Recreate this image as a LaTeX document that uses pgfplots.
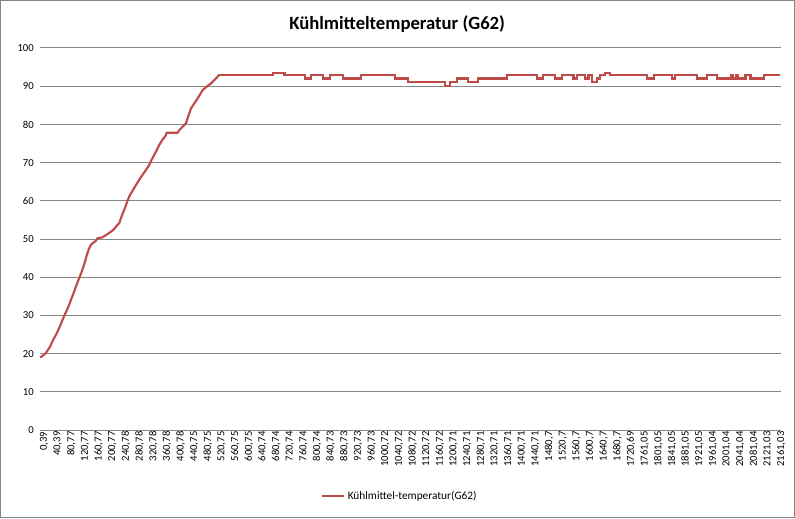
\documentclass[border=0pt]{standalone}
\usepackage{fontspec}
\setmainfont{Carlito}
\usepackage{pgfplots}
\usepackage{pgfplotstable}
\pgfplotsset{compat=1.18}

\definecolor{seriesred}{RGB}{190,75,72}
\definecolor{gridgray}{RGB}{134,134,134}

% warm-up phase: time [s], coolant temperature [deg C]
\pgfplotstableread{
t T
0.39 19.0
9.2 19.5
17.1 20.1
23.9 21.0
29.8 21.8
35.6 23.0
41.5 24.0
48.9 25.2
56.2 26.6
63.5 28.2
70.9 29.8
78.2 31.2
85.6 32.7
92.9 34.5
100.3 36.2
107.6 38.0
114.9 39.7
120.8 41.0
127.6 42.7
132.6 44.2
137.6 45.8
142.8 47.2
149.3 48.4
156.1 49.0
164.0 49.5
168.7 50.2
182.5 50.4
193.4 51.0
208.0 51.9
217.7 52.6
227.4 53.7
232.4 54.1
239.8 56.0
247.1 57.6
254.5 59.4
261.8 61.1
270.6 62.5
281.5 64.1
291.2 65.5
300.9 66.8
310.3 68.0
320.5 69.4
327.9 70.8
335.2 72.0
342.6 73.3
349.9 74.6
358.7 75.9
369.6 77.2
371.0 77.8
403.7 77.8
408.6 78.5
418.3 79.4
428.3 80.3
435.1 82.2
443.0 84.2
452.7 85.5
462.4 86.8
470.3 88.0
477.1 89.0
491.8 90.1
502.6 90.8
511.4 91.6
526.1 93.0
}\warmup

% operating phase (stepwise): time [s], coolant temperature [deg C]
\pgfplotstableread{
t T
526.1 93.0
682.7 93.5
717.0 93.0
775.8 92.0
795.4 93.0
829.5 92.0
849.2 93.0
888.3 92.0
942.3 93.0
1040.1 92.0
1079.2 91.0
1186.9 90.0
1201.6 91.0
1221.3 92.0
1255.4 91.0
1284.7 92.0
1368.2 93.0
1456.3 92.0
1475.7 93.0
1510.0 92.0
1529.7 93.0
1563.8 92.0
1573.8 93.0
1598.1 92.0
1607.8 93.0
1617.8 91.0
1632.5 92.0
1642.2 93.0
1656.9 93.5
1671.6 93.0
1779.3 92.0
1798.7 93.0
1852.8 92.0
1862.5 93.0
1926.2 92.0
1955.6 93.0
1984.9 92.0
2026.9 93.0
2031.3 92.0
2041.6 93.0
2046.0 92.0
2068.0 93.0
2082.7 92.0
2121.8 93.0
2167.9 93.0
}\running

\begin{document}
\begin{tikzpicture}
\useasboundingbox (-30pt,-66pt) rectangle (566.25pt,322.5pt);
\begin{axis}[
  scale only axis,
  width=555.75pt, height=286.5pt,
  xmin=0.39, xmax=2172,
  ymin=0, ymax=100,
  axis line style={draw=none},
  major tick length=0pt,
  ytick={0,10,...,100},
  ymajorgrids,
  grid style={gridgray, line width=0.75pt},
  xtick={0.39,40.39,80.77,120.77,160.77,200.77,240.78,280.78,320.78,360.78,400.78,440.75,480.75,520.75,560.75,600.75,640.74,680.74,720.74,760.74,800.74,840.73,880.73,920.73,960.73,1000.72,1040.72,1080.72,1120.72,1160.72,1200.71,1240.71,1280.71,1320.71,1360.71,1400.71,1440.71,1480.7,1520.7,1560.7,1600.7,1640.7,1680.7,1720.69,1761.05,1801.05,1841.05,1881.05,1921.05,1961.04,2001.04,2041.04,2081.04,2121.03,2161.03},
  xticklabels={{0,39},{40,39},{80,77},{120,77},{160,77},{200,77},{240,78},{280,78},{320,78},{360,78},{400,78},{440,75},{480,75},{520,75},{560,75},{600,75},{640,74},{680,74},{720,74},{760,74},{800,74},{840,73},{880,73},{920,73},{960,73},{1000,72},{1040,72},{1080,72},{1120,72},{1160,72},{1200,71},{1240,71},{1280,71},{1320,71},{1360,71},{1400,71},{1440,71},{1480,7},{1520,7},{1560,7},{1600,7},{1640,7},{1680,7},{1720,69},{1761,05},{1801,05},{1841,05},{1881,05},{1921,05},{1961,04},{2001,04},{2041,04},{2081,04},{2121,03},{2161,03}},
  /pgf/number format/assume math mode=true,
  tick label style={font=\fontsize{8}{9}\selectfont, text=black},
  x tick label style={rotate=90, anchor=east, inner sep=1pt, yshift=-3pt},
  y tick label style={inner sep=1pt, xshift=-3.5pt},
  title={Kühlmitteltemperatur (G62)},
  title style={font=\bfseries\fontsize{14}{16}\selectfont, at={(axis description cs:0.482,1.042)}, anchor=center},
  legend style={draw=none, fill=none, at={(axis description cs:0.486,-0.173)}, anchor=center, font=\fontsize{8.5}{10}\selectfont},
  legend image code/.code={\draw[#1, line width=1.6pt] (0pt,0pt) -- (16.5pt,0pt);},
]
\addplot[color=seriesred, line width=1.6pt, line join=round] table[x=t, y=T] {\warmup};
\addlegendentry{Kühlmittel-temperatur(G62)}
\addplot[const plot, color=seriesred, line width=1.6pt, forget plot] table[x=t, y=T] {\running};
\end{axis}
\draw[gridgray, line width=0.75pt] (-29.6pt,-65.6pt) rectangle (565.85pt,322.1pt);
\end{tikzpicture}
\end{document}
